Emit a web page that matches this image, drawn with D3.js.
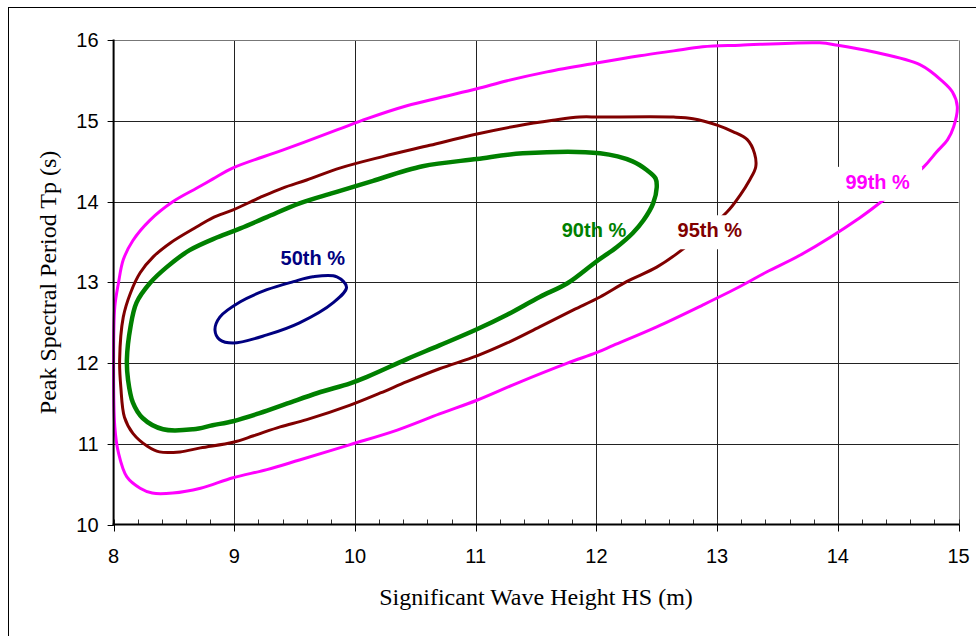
<!DOCTYPE html>
<html>
<head>
<meta charset="utf-8">
<script src="https://cdn.jsdelivr.net/npm/d3@7"></script>
<style>
  body { margin: 0; background: #fff; }
  svg { display: block; }
</style>
</head>
<body>
<svg id="grafico" width="976" height="636"></svg>
<script>
// Contour points [Hs, Tp]
const p50 = [
  [8.84, 12.41], [8.88, 12.57], [9.05, 12.76], [9.27, 12.91], [9.49, 13.01],
  [9.65, 13.07], [9.85, 13.07], [9.93, 12.94], [9.82, 12.75], [9.54, 12.50],
  [9.27, 12.35], [8.99, 12.25], [8.88, 12.29]
];

const p90 = [
  [8.11, 12.04], [8.12, 11.79], [8.16, 11.51], [8.24, 11.32], [8.41, 11.18],
  [8.66, 11.18], [8.82, 11.23], [8.99, 11.28], [9.21, 11.38], [9.44, 11.50],
  [9.69, 11.63], [9.96, 11.75], [10.10, 11.83], [10.43, 12.05], [10.70, 12.22],
  [11.01, 12.42], [11.26, 12.60], [11.53, 12.82], [11.76, 12.99], [12.00, 13.26],
  [12.17, 13.44], [12.30, 13.61], [12.39, 13.77], [12.47, 13.98], [12.50, 14.18],
  [12.49, 14.29], [12.42, 14.39], [12.30, 14.50], [12.03, 14.60], [11.39, 14.60],
  [11.01, 14.53], [10.56, 14.44], [10.15, 14.26], [10.04, 14.21], [9.82, 14.11],
  [9.54, 13.98], [9.27, 13.81], [9.05, 13.67], [8.86, 13.56], [8.63, 13.40],
  [8.44, 13.19], [8.30, 12.99], [8.19, 12.75], [8.14, 12.45]
];

const p95 = [
  [8.05, 12.04], [8.06, 11.70], [8.09, 11.33], [8.16, 11.13], [8.28, 10.97],
  [8.38, 10.90], [8.55, 10.90], [8.72, 10.95], [8.99, 11.02], [9.16, 11.10],
  [9.38, 11.21], [9.60, 11.30], [9.96, 11.48], [10.21, 11.63], [10.43, 11.77],
  [10.70, 11.93], [11.01, 12.09], [11.26, 12.25], [11.53, 12.45], [11.81, 12.66],
  [12.03, 12.82], [12.25, 13.01], [12.50, 13.19], [12.67, 13.36], [13.08, 13.87],
  [13.19, 14.08], [13.27, 14.27], [13.32, 14.43], [13.31, 14.60], [13.25, 14.77],
  [13.13, 14.87], [13.00, 14.95], [12.80, 15.03], [12.64, 15.05], [12.03, 15.05],
  [11.86, 15.05], [11.64, 15.01], [11.34, 14.94], [11.01, 14.84], [10.62, 14.70],
  [10.23, 14.56], [9.88, 14.42], [9.60, 14.27], [9.40, 14.17], [9.21, 14.05],
  [8.99, 13.90], [8.82, 13.80], [8.69, 13.69], [8.47, 13.49], [8.33, 13.32],
  [8.22, 13.12], [8.14, 12.87], [8.08, 12.57]
];

const p99 = [
  [8.00, 12.04], [8.01, 11.21], [8.04, 10.89], [8.11, 10.59], [8.22, 10.45],
  [8.32, 10.39], [8.49, 10.39], [8.72, 10.45], [8.99, 10.58], [9.27, 10.68],
  [9.54, 10.80], [9.96, 10.99], [10.35, 11.17], [10.70, 11.37], [11.01, 11.54],
  [11.34, 11.75], [11.76, 12.00], [12.00, 12.13], [12.14, 12.22], [12.50, 12.45],
  [12.88, 12.72], [13.19, 12.95], [13.41, 13.13], [13.69, 13.34], [14.18, 13.80],
  [14.41, 14.06], [14.71, 14.43], [14.82, 14.62], [14.91, 14.77], [14.96, 14.93],
  [14.99, 15.18], [14.95, 15.36], [14.87, 15.49], [14.68, 15.70], [14.29, 15.86],
  [14.00, 15.94], [13.85, 15.97], [13.19, 15.94], [12.88, 15.92], [12.64, 15.87],
  [12.36, 15.81], [12.00, 15.72], [11.59, 15.61], [11.26, 15.50], [11.01, 15.40],
  [10.70, 15.29], [10.43, 15.19], [10.10, 15.03], [9.85, 14.89],
  [9.40, 14.64], [8.99, 14.42], [8.82, 14.28], [8.69, 14.17], [8.49, 14.00],
  [8.30, 13.77], [8.16, 13.52], [8.08, 13.28], [8.04, 12.99], [8.01, 12.70]
];

const xTicks = [8, 9, 10, 11, 12, 13, 14, 15];
const yTicks = [10, 11, 12, 13, 14, 15, 16];

// label text and anchor (Hs, Tp)
const labelNames = ["50th %", "90th %", "95th %", "99th %"];
const labelHs = [9.65, 11.98, 12.94, 14.33];
const labelTp = [13.22, 13.56, 13.56, 14.16];

const series = [
  { pts: p99, color: "#ff00ff", w: 3 },
  { pts: p95, color: "#800000", w: 3 },
  { pts: p90, color: "#008000", w: 4.5 },
  { pts: p50, color: "#000080", w: 3 }
];
const labelColors = ["#000080", "#008000", "#800000", "#ff00ff"];
const labelBoxed = [false, false, true, true];

const svg = d3.select("#grafico");

// marco exterior
svg.append("rect")
  .attr("x", 8.5).attr("y", 7.5)
  .attr("width", 1000).attr("height", 700)
  .attr("fill", "none").attr("stroke", "#000");

const x = d3.scaleLinear().domain([8, 15]).range([113.6, 958.5]);
const y = d3.scaleLinear().domain([10, 16]).range([524.5, 40.4]);

// grid
svg.append("g")
  .selectAll("line")
  .data(xTicks.slice(1))
  .join("line")
  .attr("x1", d => Math.round(x(d)) + 0.5).attr("x2", d => Math.round(x(d)) + 0.5)
  .attr("y1", y(16)).attr("y2", y(10))
  .attr("stroke", d => d === 15 ? "#777" : "#222");

svg.append("g")
  .selectAll("line")
  .data(yTicks.slice(1))
  .join("line")
  .attr("x1", x(8)).attr("x2", x(15))
  .attr("y1", d => Math.round(y(d)) + 0.5).attr("y2", d => Math.round(y(d)) + 0.5)
  .attr("stroke", d => d === 16 ? "#777" : "#222");

// curvas
const line = d3.line()
  .x(d => x(d[0]))
  .y(d => y(d[1]))
  .curve(d3.curveCatmullRomClosed.alpha(0.5));

series.forEach(s => {
  svg.append("path")
    .attr("d", line(s.pts))
    .attr("fill", "none")
    .attr("stroke", s.color)
    .attr("stroke-width", s.w)
    .attr("stroke-linejoin", "round");
});

// etiquetas
labelNames.forEach((name, i) => {
  const g = svg.append("g");
  const t = g.append("text")
    .attr("x", x(labelHs[i]))
    .attr("y", y(labelTp[i]))
    .attr("text-anchor", "middle")
    .attr("font-family", "Liberation Sans, Arial, sans-serif")
    .attr("font-weight", "bold")
    .attr("font-size", 20)
    .attr("fill", labelColors[i])
    .text(name);
  if (labelBoxed[i]) {
    const b = t.node().getBBox();
    g.insert("rect", "text")
      .attr("x", b.x - 10).attr("y", b.y - 4)
      .attr("width", b.width + 22).attr("height", b.height + 12)
      .attr("fill", "#fff");
  }
});

// ejes
const xAxis = svg.append("g").attr("transform", `translate(0,${y(10)})`);
xAxis.append("g")
  .selectAll("line")
  .data(d3.range(8, 15.001, 0.2))
  .join("line")
  .attr("x1", d => Math.round(x(d)) + 0.5).attr("x2", d => Math.round(x(d)) + 0.5)
  .attr("y1", -5).attr("y2", 0)
  .attr("stroke", "#333");
xAxis.append("g")
  .selectAll("line")
  .data(xTicks)
  .join("line")
  .attr("x1", d => Math.round(x(d)) + 0.5).attr("x2", d => Math.round(x(d)) + 0.5)
  .attr("y1", 0).attr("y2", 7)
  .attr("stroke", "#000");
xAxis.append("line")
  .attr("x1", x(8) - 1).attr("x2", x(15) + 1)
  .attr("stroke", "#000").attr("stroke-width", 2);
xAxis.append("g")
  .selectAll("text")
  .data(xTicks)
  .join("text")
  .attr("x", d => x(d))
  .attr("y", 38)
  .attr("text-anchor", "middle")
  .attr("font-family", "Liberation Sans, Arial, sans-serif")
  .attr("font-size", 20)
  .text(d => d);

const yAxis = svg.append("g").attr("transform", `translate(${x(8)},0)`);
yAxis.append("g")
  .selectAll("line")
  .data(yTicks)
  .join("line")
  .attr("x1", -6).attr("x2", 0)
  .attr("y1", d => Math.round(y(d)) + 0.5).attr("y2", d => Math.round(y(d)) + 0.5)
  .attr("stroke", "#000");
yAxis.append("line")
  .attr("y1", y(16) - 1).attr("y2", y(10) + 1)
  .attr("stroke", "#000").attr("stroke-width", 2);
yAxis.append("g")
  .selectAll("text")
  .data(yTicks)
  .join("text")
  .attr("x", -15)
  .attr("y", d => y(d) + 7)
  .attr("text-anchor", "end")
  .attr("font-family", "Liberation Sans, Arial, sans-serif")
  .attr("font-size", 20)
  .text(d => d);

// titulos
svg.append("text")
  .attr("x", (x(8) + x(15)) / 2)
  .attr("y", 605)
  .attr("text-anchor", "middle")
  .attr("font-family", "Liberation Serif, Times New Roman, serif")
  .attr("font-size", 24)
  .text("Significant Wave Height HS (m)");

svg.append("text")
  .attr("transform", `translate(56,${(y(10) + y(16)) / 2}) rotate(-90)`)
  .attr("text-anchor", "middle")
  .attr("font-family", "Liberation Serif, Times New Roman, serif")
  .attr("font-size", 24)
  .text("Peak Spectral Period Tp (s)");
</script>
</body>
</html>
